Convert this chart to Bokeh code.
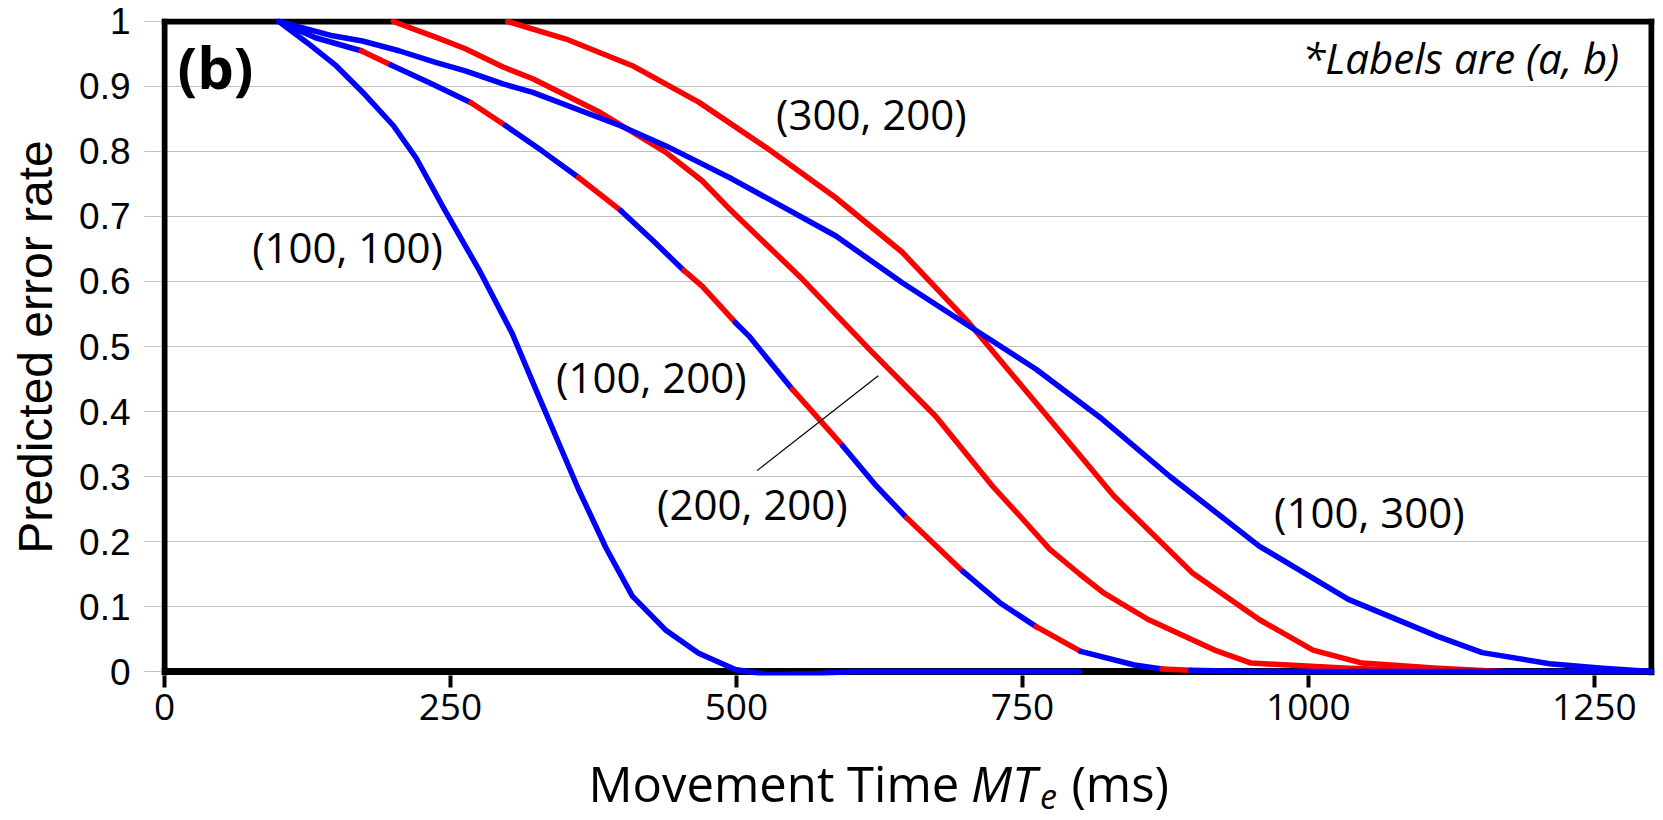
import math
from bokeh.plotting import figure
from bokeh.layouts import column
from bokeh.models import Span, Label, FixedTicker, Range1d
from bokeh.core.properties import value
from bokeh.embed import file_html
from bokeh.resources import INLINE

# ---------------- data ----------------
series_labels = ["(100, 100)", "(100, 200)", "(200, 200)", "(300, 200)", "(100, 300)"]

c1_x = [100, 125, 150, 175, 200, 220, 245, 275, 304, 327, 345, 362, 386, 409, 438, 467, 499, 528, 572, 601, 700, 800]
c1_y = [1.000, 0.967, 0.932, 0.888, 0.840, 0.790, 0.710, 0.618, 0.520, 0.424, 0.350, 0.280, 0.190, 0.116, 0.064, 0.028, 0.003, -0.005, -0.003, 0.000, 0.000, 0.000]

c2_x = [100, 132, 172, 198, 234, 268, 298, 330, 362, 399, 427, 454, 470, 499, 511, 549, 593, 621, 649, 698, 731, 762, 801, 848, 872, 897, 950, 1300]
c2_y = [1.000, 0.975, 0.955, 0.933, 0.904, 0.875, 0.840, 0.801, 0.760, 0.709, 0.663, 0.617, 0.593, 0.537, 0.516, 0.434, 0.347, 0.288, 0.236, 0.154, 0.105, 0.069, 0.031, 0.010, 0.004, 0.002, 0.000, 0.000]
# colour of each piece between consecutive points of curve (100, 200)
c2_piece_colors = ["blue", "blue", "red", "blue", "blue", "red", "blue", "blue", "red",
                   "blue", "blue", "red", "red", "blue", "blue", "red", "blue", "blue",
                   "red", "blue", "blue", "red", "blue", "blue", "red", "blue", "blue"]

c3_x = [200, 237, 263, 296, 322, 381, 438, 470, 496, 558, 616, 674, 724, 750, 774, 800, 821, 860, 918, 950, 1035, 1120]
c3_y = [1.000, 0.976, 0.958, 0.930, 0.912, 0.860, 0.799, 0.755, 0.708, 0.603, 0.496, 0.393, 0.285, 0.235, 0.188, 0.150, 0.121, 0.080, 0.033, 0.013, 0.005, 0.000]

c4_x = [300, 351, 409, 467, 526, 586, 645, 703, 762, 830, 899, 957, 1004, 1047, 1113, 1170]
c4_y = [1.000, 0.973, 0.932, 0.876, 0.806, 0.730, 0.645, 0.537, 0.413, 0.270, 0.151, 0.080, 0.033, 0.013, 0.005, 0.000]

c5_x = [100, 147, 173, 205, 237, 263, 296, 322, 398, 438, 470, 496, 528, 587, 645, 703, 762, 820, 879, 957, 1035, 1113, 1152, 1211, 1257, 1300]
c5_y = [1.000, 0.978, 0.970, 0.955, 0.937, 0.924, 0.904, 0.891, 0.840, 0.809, 0.781, 0.758, 0.727, 0.670, 0.598, 0.532, 0.465, 0.388, 0.300, 0.193, 0.111, 0.054, 0.029, 0.012, 0.005, 0.000]

leader_x = [518, 624]
leader_y = [0.309, 0.455]

x_ticks = [0, 250, 500, 750, 1000, 1250]
y_ticks = [0, 0.1, 0.2, 0.3, 0.4, 0.5, 0.6, 0.7, 0.8, 0.9, 1]
y_tick_labels = ["0", "0.1", "0.2", "0.3", "0.4", "0.5", "0.6", "0.7", "0.8", "0.9", "1"]

x_title = "Movement Time"
x_title_var = "MT"
x_title_sub = "e"
x_title_unit = "(ms)"
y_title = "Predicted error rate"
panel_tag = "(b)"
note_text = "*Labels are (a, b)"

BLUE = "#0000FF"
RED = "#FF0000"
cmap = {"blue": BLUE, "red": RED}

# ---------------- layout helpers (reference pixel -> data) ----------------
PX_MS = 1.144
PX_UNIT = 650.5
X0_PAGE = 164.0
Y0_PAGE = 665.5
BASE_FIX = 0.4   # baseline correction (fraction of font size)


def px2x(px):
    return (px - X0_PAGE) / PX_MS


def py2y(py):
    return (Y0_PAGE - py) / PX_UNIT


W = 1656
H_MAIN = 744
H_TITLE = 74

p = figure(width=W, height=H_MAIN,
           x_range=Range1d(-3.0 / PX_MS, 1300 + 3.0 / PX_MS),
           y_range=Range1d(-4.0 / PX_UNIT, 1 + 3.0 / PX_UNIT),
           min_border_left=161, min_border_right=2, min_border_top=18, min_border_bottom=69,
           output_backend="svg", toolbar_location=None)
p.background_fill_color = "white"
p.border_fill_color = "white"
p.outline_line_color = None

# axes
p.xaxis.ticker = FixedTicker(ticks=x_ticks)
p.xaxis.axis_line_color = None
p.xaxis.major_tick_line_color = "black"
p.xaxis.major_tick_line_width = 4
p.xaxis.major_tick_out = 12
p.xaxis.major_tick_in = 0
p.xaxis.minor_tick_line_color = None
p.xaxis.major_label_text_font = "Open Sans"
p.xaxis.major_label_text_font_size = "37px"
p.xaxis.major_label_text_color = "black"
p.xaxis.major_label_standoff = 6

p.yaxis.ticker = FixedTicker(ticks=y_ticks)
p.yaxis.major_label_overrides = dict(zip(y_ticks, y_tick_labels))
p.yaxis.axis_line_color = None
p.yaxis.major_tick_line_color = "#BFBFBF"
p.yaxis.major_tick_line_width = 1
p.yaxis.major_tick_out = 17
p.yaxis.major_tick_in = 0
p.yaxis.minor_tick_line_color = None
p.yaxis.major_label_text_font = "Liberation Sans"
p.yaxis.major_label_text_font_size = "37px"
p.yaxis.major_label_text_color = "black"
p.yaxis.major_label_standoff = 14
p.yaxis.axis_label = y_title
p.yaxis.axis_label_text_font = "Liberation Sans"
p.yaxis.axis_label_text_font_size = "48px"
p.yaxis.axis_label_text_font_style = "normal"
p.yaxis.axis_label_text_color = "black"
p.yaxis.axis_label_standoff = 14

p.xgrid.grid_line_color = None
p.ygrid.ticker = FixedTicker(ticks=y_ticks)
p.ygrid.grid_line_color = "#BFBFBF"
p.ygrid.grid_line_width = 1

# frame lines (left, right, top) and heavy zero line
for loc, dim, lw in [(0, "height", 6), (1300, "height", 6), (1, "width", 6), (0, "width", 7)]:
    p.add_layout(Span(location=loc, dimension=dim, line_color="black", line_width=lw, level="underlay"))


def runs(xs, ys, piece_colors):
    out = []
    start = 0
    for i in range(1, len(piece_colors) + 1):
        if i == len(piece_colors) or piece_colors[i] != piece_colors[start]:
            out.append((xs[start:i + 1], ys[start:i + 1], cmap[piece_colors[start]]))
            start = i
    return out


curves = [
    (c3_x, c3_y, ["red"] * (len(c3_x) - 1)),
    (c4_x, c4_y, ["red"] * (len(c4_x) - 1)),
    (c2_x, c2_y, c2_piece_colors),
    (c1_x, c1_y, ["blue"] * (len(c1_x) - 1)),
    (c5_x, c5_y, ["blue"] * (len(c5_x) - 1)),
]
for xs, ys, cols in curves:
    r = runs(xs, ys, cols)
    p.multi_line(xs=[a for a, _, _ in r], ys=[b for _, b, _ in r], line_color=[c for _, _, c in r],
                 line_width=5.5, line_cap="round", line_join="round")

p.line(leader_x, leader_y, line_color="black", line_width=1.2)


def add_text(cx, base_py, txt, fs, align="center", style="normal"):
    p.add_layout(Label(x=px2x(cx), y=py2y(base_py - BASE_FIX * fs), text=txt, text_font="Open Sans",
                       text_font_style=style, text_font_size=f"{fs}px", text_align=align,
                       text_baseline="alphabetic", text_color="black"))


# series labels (center x, baseline y in reference px)
label_pos = [(347, 257), (651, 387), (752, 514), (871, 124), (1369, 522)]
for txt, (cx, by) in zip(series_labels, label_pos):
    add_text(cx, by, txt, 42)

add_text(1619, 68, note_text, 42, align="right", style="italic")
add_text(177, 83, panel_tag, 58, align="left", style="bold")

# ---------------- x-axis title strip (shares the x scale of the plot) ----------------
t = figure(width=W, height=H_TITLE, x_range=p.x_range, y_range=Range1d(0, H_TITLE),
           min_border_left=161, min_border_right=2, min_border_top=0, min_border_bottom=0,
           x_axis_type=None, y_axis_type=None,
           output_backend="svg", toolbar_location=None)
t.outline_line_color = None
t.grid.grid_line_color = None
t.background_fill_color = "white"
t.border_fill_color = "white"

fs = 49
sub_fs = 34
w_main = 7.546 * fs          # "Movement Time"
w_space = 0.26 * fs
w_var = 1.39 * fs            # italic "MT"
w_sub = 0.55 * sub_fs        # subscript "e"
start_px = 588
base_py = 802                # baseline in page px
sub_base_py = 810


def ty(py, f):
    return H_MAIN + H_TITLE - py + BASE_FIX * f


x_var = start_px + w_main + w_space
x_sub = x_var + w_var + 1
x_unit = x_sub + w_sub + w_space
pieces = [
    (start_px, ty(base_py, fs), x_title, fs, "normal"),
    (x_var, ty(base_py, fs), x_title_var, fs, "italic"),
    (x_sub, ty(sub_base_py, sub_fs), x_title_sub, sub_fs, "italic"),
    (x_unit, ty(base_py, fs), x_title_unit, fs, "normal"),
]
for px_, y_, txt, f, style in pieces:
    t.text(x=[px2x(px_)], y=[y_], text=[txt], text_font=value("Open Sans"), text_font_size=value(f"{f}px"),
           text_font_style=style, text_align="left", text_baseline="alphabetic", text_color="black")

layout = column(p, t, spacing=0)
open("out.html", "w").write(file_html(layout, INLINE))
